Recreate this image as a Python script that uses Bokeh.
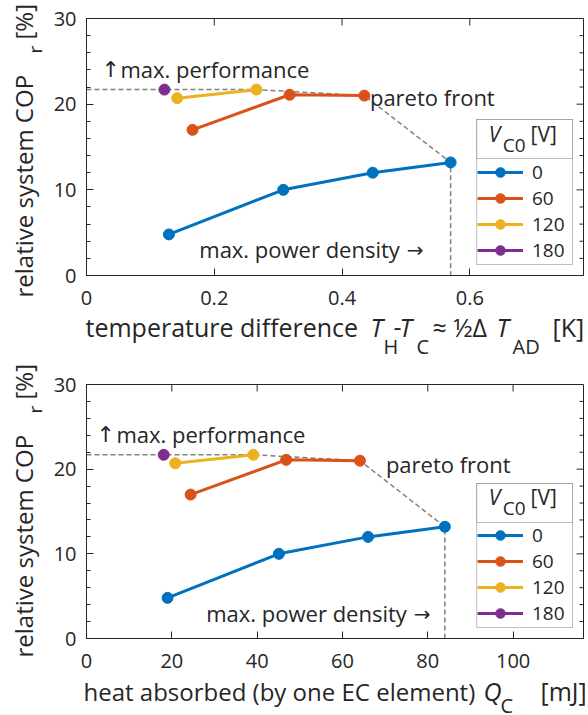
import numpy as np
from bokeh.plotting import figure
from bokeh.models import (Legend, LegendItem, Label, BoxAnnotation,
                          FixedTicker, SingleIntervalTicker, Range1d)
from bokeh.layouts import column, row
from bokeh.embed import file_html
from bokeh.resources import INLINE

# ---------------- data ----------------
voltages = ["0", "60", "120", "180"]
colors = ["#0072BD", "#D95319", "#EDB120", "#7E2F8E"]

dT_0 = [0.129, 0.308, 0.448, 0.570]
dT_60 = [0.166, 0.318, 0.435]
dT_120 = [0.142, 0.266]
dT_180 = [0.122]

Qc_0 = [19.0, 45.1, 66.0, 84.0]
Qc_60 = [24.4, 46.8, 64.1]
Qc_120 = [20.8, 39.1]
Qc_180 = [18.1]

cop_0 = [4.8, 10.0, 12.0, 13.2]
cop_60 = [17.0, 21.1, 21.0]
cop_120 = [20.7, 21.7]
cop_180 = [21.7]

y_ticks = [0, 10, 20, 30]
y_minor_step = 2
dT_ticks = [0, 0.2, 0.4, 0.6]
Qc_ticks = [0, 20, 40, 60, 80, 100]

FONT = "Open Sans"
ARROW_FONT = "DejaVu Sans"
INK = "#262626"
W = 588
YL_W = 50          # width of the y-label strip
FL, FR = 85, 583   # frame left/right on page
BSH = 0.42         # baseline correction (fraction of font size)


def fs(size):
    return float(size.replace("px", ""))


def style_axis(ax):
    ax.axis_line_color = INK
    ax.axis_line_width = 1
    ax.major_tick_in = 7
    ax.major_tick_out = 0
    ax.minor_tick_in = 4
    ax.minor_tick_out = 0
    ax.major_tick_line_color = INK
    ax.minor_tick_line_color = INK
    ax.major_label_text_font = FONT
    ax.major_label_text_color = INK
    ax.major_label_text_font_size = "20px"


def text_fig(w, h, top, parts):
    # texts positioned in page pixels; the figure covers page rows top..top+h
    f = figure(width=w, height=h, output_backend="svg", toolbar_location=None,
               title_location=None, frame_align=False,
               x_range=Range1d(0, w), y_range=Range1d(top + h, top),
               x_axis_type=None, y_axis_type=None, min_border=0)
    f.outline_line_color = None
    f.xgrid.visible = False
    f.ygrid.visible = False
    for txt, px, py, size, style, angle in parts:
        if angle:
            px = px - BSH * fs(size)
        else:
            py = py - BSH * fs(size)
        f.add_layout(Label(x=px, y=py, text=txt, text_font=FONT, text_font_size=size,
                           text_font_style=style, text_color=INK, text_align="left",
                           text_baseline="alphabetic", angle=angle))
    return f


def panel(xs, x_end, xticks, height, b_top, b_bot, page_top, pos):
    p = figure(width=W - YL_W, height=height, output_backend="svg", toolbar_location=None,
               title_location=None,
               x_range=Range1d(0, x_end), y_range=Range1d(0, 30),
               min_border_left=FL - YL_W, min_border_right=W - FR,
               min_border_top=b_top, min_border_bottom=b_bot)
    p.xgrid.visible = False
    p.ygrid.visible = False
    p.outline_line_color = INK
    p.background_fill_color = "white"
    p.border_fill_color = "white"

    f_top = page_top + b_top
    f_bot = page_top + height - b_bot
    f_h = f_bot - f_top

    def X(px):
        return x_end * (px - FL) / (FR - FL)

    def Y(py):
        return 30.0 * (f_bot - py) / f_h

    # axes (bottom / left)
    p.xaxis.ticker = FixedTicker(ticks=xticks)
    p.yaxis.ticker = SingleIntervalTicker(interval=y_ticks[1] - y_ticks[0],
                                          num_minor_ticks=5)
    style_axis(p.xaxis[0])
    style_axis(p.yaxis[0])
    p.xaxis.minor_tick_line_color = None
    p.xaxis.major_label_standoff = 15
    p.yaxis.major_label_standoff = 10

    # mirrored ticks on top and right (box on)
    dy_major = 7 * 30.0 / f_h
    dx_minor = 4 * x_end / (FR - FL)
    dx_major = 7 * x_end / (FR - FL)
    top_t = [t for t in xticks if 0 < t < x_end]
    p.segment(x0=top_t, y0=[30] * len(top_t), x1=top_t, y1=[30 - dy_major] * len(top_t),
              line_color=INK, line_width=1)
    yt = [t for t in y_ticks if 0 < t < 30]
    p.segment(x0=[x_end] * len(yt), y0=yt, x1=[x_end - dx_major] * len(yt), y1=yt,
              line_color=INK, line_width=1)
    ym = [v for v in np.arange(0, 30, y_minor_step) if v % 10 != 0]
    p.segment(x0=[x_end] * len(ym), y0=ym, x1=[x_end - dx_minor] * len(ym), y1=ym,
              line_color=INK, line_width=1)

    cops = [cop_0, cop_60, cop_120, cop_180]

    # pareto front (dashed)
    px_ = [0, xs[2][1], xs[1][2], xs[0][3], xs[0][3]]
    py_ = [cop_180[0], cop_120[1], cop_60[2], cop_0[3], 0]
    p.line(px_, py_, line_color="#808080", line_width=1.5, line_dash="5 3")

    items = []
    for x, y, c, v in zip(xs, cops, colors, voltages):
        r1 = p.line(x, y, line_color=c, line_width=3)
        r2 = p.scatter(x, y, size=11, fill_color=c, line_color=c)
        items.append(LegendItem(label=v, renderers=[r1, r2]))

    def lab(txt, px, py, size="22px", style="normal", align="left", font=FONT):
        p.add_layout(Label(x=X(px), y=Y(py - BSH * fs(size)), text=txt, text_font=font,
                           text_font_size=size, text_font_style=style,
                           text_color=INK, text_align=align,
                           text_baseline="alphabetic"))

    a = pos["perf"]
    lab("\u2191", a[0], a[1], size="22px", font=ARROW_FONT)
    lab("max. performance", a[2], a[1])
    lab("pareto front", pos["pareto"][0], pos["pareto"][1])
    b = pos["power"]
    lab("max. power density", b[0], b[1], align="right")
    lab("\u2192", b[2], b[1], size="20px", font=ARROW_FONT)

    # legend frame with title compartment
    lg = pos["legend"]
    p.add_layout(BoxAnnotation(left=X(lg[0]), right=X(lg[1]), top=Y(lg[2]), bottom=Y(lg[4]),
                               fill_color="white", fill_alpha=1, line_color=INK, line_width=1))
    p.add_layout(BoxAnnotation(left=X(lg[0]), right=X(lg[1]), top=Y(lg[2]), bottom=Y(lg[3]),
                               fill_color="white", fill_alpha=1, line_color=INK, line_width=1))
    lab("V", 488, lg[5], size="21px", style="italic")
    lab("C0", 502, lg[5] + 10, size="19px")
    lab("[V]", 530, lg[5], size="21px")

    legend = Legend(items=items, location=(lg[0] - FL, f_bot - lg[6]),
                    border_line_color=None, background_fill_alpha=0,
                    padding=4, spacing=0, margin=0,
                    glyph_width=46, glyph_height=24, label_height=24,
                    label_standoff=9, label_text_font=FONT,
                    label_text_font_size="19px", label_text_color=INK)
    p.add_layout(legend)
    return p


A = np.pi / 2
# ---- top panel ----
H1 = 318
F1_TOP, F1_BOT = 18, 275
top_pos = {"perf": (100, 78, 119), "pareto": (369, 106), "power": (399, 258, 406),
           "legend": (476, 572, 119, 158, 264, 142, 263)}
p1 = panel([dT_0, dT_60, dT_120, dT_180], 0.778, dT_ticks, H1, F1_TOP, H1 - F1_BOT, 0, top_pos)
yl1 = text_fig(YL_W, H1, 0, [
    ("relative system COP", 33, 297, "24px", "normal", A),
    ("r", 42, 53, "19px", "normal", A),
    ("[%]", 33, 39, "24px", "normal", A),
])
xl1 = text_fig(W, 358 - H1, H1, [
    ("temperature difference", 85, 337, "25px", "normal", 0),
    ("T", 370, 337, "25px", "italic", 0),
    ("H", 383, 354, "20px", "normal", 0),
    ("-", 393, 337, "25px", "normal", 0),
    ("T", 399, 337, "25px", "italic", 0),
    ("C", 416, 354, "20px", "normal", 0),
    ("\u2248 \u00bd\u0394", 432, 337, "25px", "normal", 0),
    ("T", 496, 337, "25px", "italic", 0),
    ("AD", 512, 354, "20px", "normal", 0),
    ("[K]", 552, 337, "25px", "normal", 0),
])

# ---- bottom panel ----
P2_TOP = 358
H2 = 681 - P2_TOP
F2_TOP, F2_BOT = 384, 638
bot_pos = {"perf": (95, 443, 115), "pareto": (385, 473), "power": (406, 622, 413),
           "legend": (476, 572, 483, 522, 627, 505, 626)}
p2 = panel([Qc_0, Qc_60, Qc_120, Qc_180], 116.5, Qc_ticks, H2, F2_TOP - P2_TOP,
           P2_TOP + H2 - F2_BOT, P2_TOP, bot_pos)
yl2 = text_fig(YL_W, H2, P2_TOP, [
    ("relative system COP", 33, 297 + 360, "24px", "normal", A),
    ("r", 42, 53 + 360, "19px", "normal", A),
    ("[%]", 33, 39 + 360, "24px", "normal", A),
])
xl2 = text_fig(W, 715 - (P2_TOP + H2), P2_TOP + H2, [
    ("heat absorbed (by one EC element)", 83, 701, "24px", "normal", 0),
    ("Q", 483, 701, "25px", "italic", 0),
    ("C", 500, 713, "20px", "normal", 0),
    ("[mJ]", 540, 701, "25px", "normal", 0),
])

layout = column(row(yl1, p1, spacing=0), xl1,
                row(yl2, p2, spacing=0), xl2, spacing=0)
open("out.html", "w").write(file_html(layout, INLINE))
